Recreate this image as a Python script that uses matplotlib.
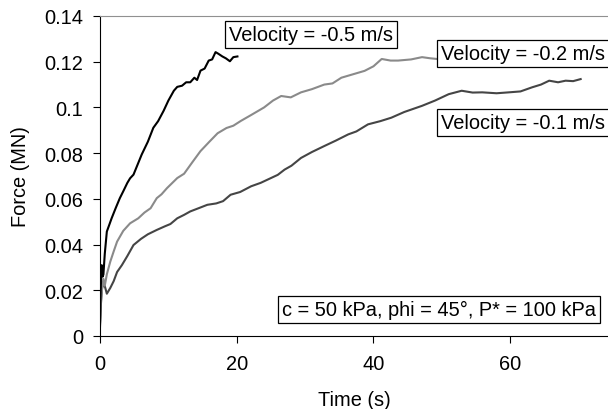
import matplotlib
matplotlib.use("Agg")
import matplotlib.pyplot as plt
from matplotlib.ticker import FuncFormatter

plt.rcParams['font.family'] = ['Liberation Sans', 'DejaVu Sans']

# Velocity = -0.5 m/s
t_05 = [0, 0.1, 0.25, 0.4, 0.5, 0.7, 1.0, 1.4, 1.7, 2.3, 2.9, 3.4, 4.0, 4.4, 4.9, 5.5,
        6.1, 7.0, 7.8, 8.5, 9.3, 10.0, 10.8, 11.3, 12.0, 12.6, 13.2, 13.8, 14.2, 14.7,
        15.3, 15.9, 16.4, 16.9, 17.3, 17.9, 18.4, 19.0, 19.5, 20.1]
f_05 = [0.006, 0.020, 0.031, 0.026, 0.027, 0.036, 0.0457, 0.049, 0.0515, 0.056, 0.0603,
        0.0633, 0.067, 0.069, 0.0706, 0.075, 0.0794, 0.085, 0.0911, 0.094, 0.0985, 0.103,
        0.1073, 0.109, 0.1095, 0.111, 0.111, 0.113, 0.112, 0.1161, 0.117, 0.1205, 0.121,
        0.1242, 0.1235, 0.1223, 0.1215, 0.1202, 0.122, 0.1223]

# Velocity = -0.2 m/s
t_02 = [0, 0.2, 0.5, 0.7, 1.0, 1.5, 2.0, 2.5, 3.4, 4.4, 5.6, 6.5, 7.4, 8.3, 9.0, 9.8,
        11.3, 12.3, 13.5, 14.7, 16.0, 17.2, 18.5, 19.5, 20.6, 22.0, 24.0, 25.3, 26.5,
        27.9, 29.4, 31.0, 32.8, 34.0, 35.3, 37.0, 38.7, 40.0, 41.2, 42.5, 43.6, 45.5,
        47.1, 48.3, 49.3, 52, 56, 60, 64, 68, 70.5]
f_02 = [0.005, 0.018, 0.025, 0.022, 0.027, 0.0325, 0.037, 0.0413, 0.046, 0.0493, 0.0515,
        0.054, 0.0559, 0.0603, 0.062, 0.0647, 0.0691, 0.071, 0.076, 0.0809, 0.085, 0.0887,
        0.091, 0.092, 0.0941, 0.0965, 0.100, 0.103, 0.105, 0.1044, 0.1066, 0.108, 0.110,
        0.1105, 0.113, 0.1145, 0.116, 0.118, 0.1212, 0.1205, 0.1205, 0.121, 0.122, 0.1215,
        0.1212, 0.121, 0.1215, 0.121, 0.1212, 0.121, 0.1208]

# Velocity = -0.1 m/s
t_01 = [0, 0.15, 0.3, 0.6, 1.0, 1.5, 2.0, 2.5, 3.2, 4.0, 4.9, 6.0, 7.0, 8.3, 9.5, 10.3,
        11.3, 12.3, 13.2, 14.5, 15.7, 17.0, 18.0, 19.1, 20.5, 22.1, 23.5, 25.0, 26.0,
        27.0, 28.0, 29.4, 31.0, 32.8, 34.5, 36.3, 37.5, 39.2, 41.0, 42.6, 44.5, 47.1,
        49.0, 51.0, 52.9, 54.5, 55.9, 58.0, 59.8, 61.5, 63.2, 64.5, 65.7, 67.0, 68.1,
        69.2, 70.3]
f_01 = [0.004, 0.015, 0.021, 0.023, 0.0185, 0.021, 0.024, 0.028, 0.031, 0.035, 0.0398,
        0.0425, 0.0445, 0.0464, 0.048, 0.049, 0.0515, 0.053, 0.0545, 0.056, 0.0574, 0.058,
        0.059, 0.0618, 0.063, 0.0655, 0.067, 0.0691, 0.0705, 0.0728, 0.0745, 0.0779,
        0.0805, 0.0831, 0.0855, 0.0882, 0.0895, 0.0926, 0.094, 0.0955, 0.098, 0.1007,
        0.103, 0.1058, 0.1073, 0.1065, 0.1066, 0.1062, 0.1066, 0.107, 0.1088, 0.110,
        0.1117, 0.111, 0.1117, 0.1115, 0.1124]

fs = 14.4

fig = plt.figure(figsize=(6.08, 4.10), dpi=100)
# plot area: x from px 100 to 608, y from px 17 to 337
ax = fig.add_axes([100 / 608, 73 / 410, 508 / 608, 320 / 410])

ax.plot(t_01, f_01, color='#454545', lw=1.5)
ax.plot(t_02, f_02, color='#8a8a8a', lw=1.5)
ax.plot(t_05, f_05, color='black', lw=1.5)

ax.set_xlim(0, 74.3)
ax.set_ylim(0, 0.14)
ax.set_xticks([0, 20, 40, 60])
ax.set_yticks([0, 0.02, 0.04, 0.06, 0.08, 0.1, 0.12, 0.14])
ax.yaxis.set_major_formatter(FuncFormatter(lambda v, p: f'{v:g}'))
ax.spines['right'].set_visible(False)
ax.spines['top'].set_color('#909090')
ax.spines['top'].set_linewidth(0.8)
ax.tick_params(direction='out', length=5, labelsize=fs)
ax.tick_params(axis='y', pad=7)
ax.tick_params(axis='x', pad=8)
ax.set_xlabel('Time (s)', fontsize=fs, labelpad=12)
ax.set_ylabel('Force (MN)', fontsize=fs, labelpad=10)

box = dict(boxstyle='square,pad=0.2', facecolor='white', edgecolor='black', lw=0.9)
ax.text(18.9, 0.1317, 'Velocity = -0.5 m/s', fontsize=fs, ha='left', va='center', bbox=box, zorder=5)
ax.text(49.9, 0.1237, 'Velocity = -0.2 m/s', fontsize=fs, ha='left', va='center', bbox=box, zorder=5)
ax.text(49.9, 0.0934, 'Velocity = -0.1 m/s', fontsize=fs, ha='left', va='center', bbox=box, zorder=5)
ax.text(26.6, 0.0115, 'c = 50 kPa, phi = 45°, P* = 100 kPa', fontsize=fs, ha='left', va='center',
        bbox=box, zorder=5)

fig.savefig('out.png', dpi=100)
